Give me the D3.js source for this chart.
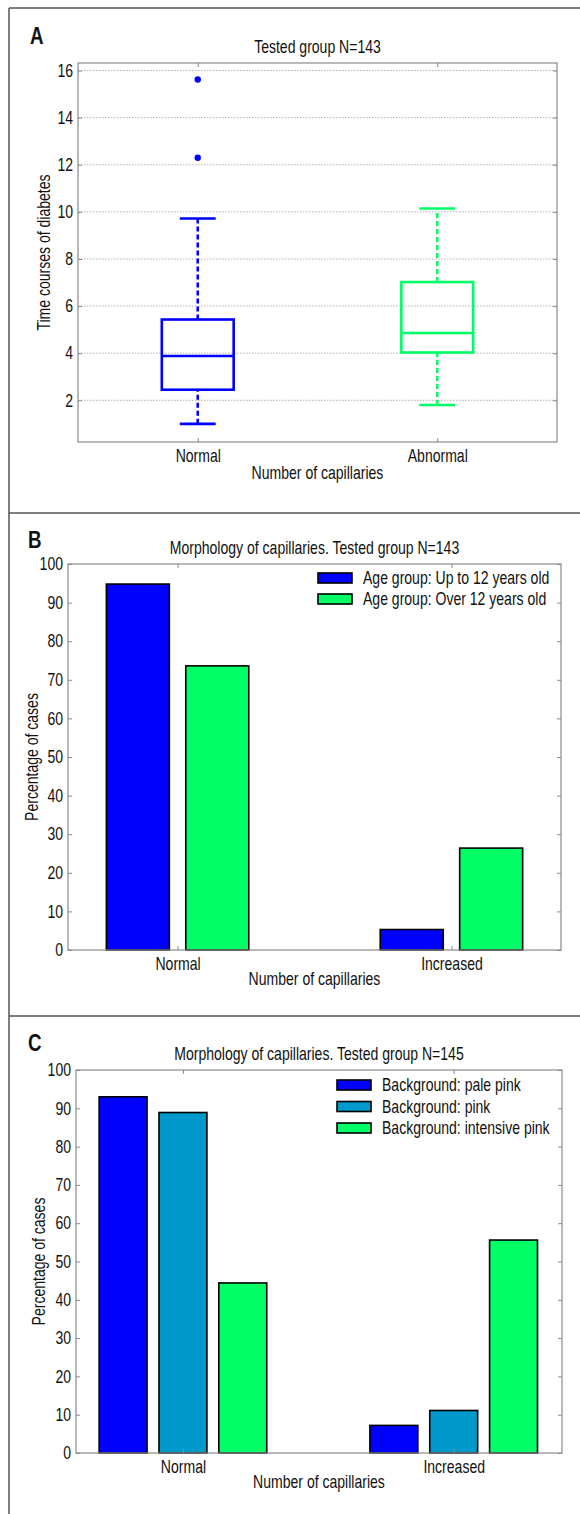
<!DOCTYPE html>
<html>
<head>
<meta charset="utf-8">
<script src="https://cdn.jsdelivr.net/npm/d3@7"></script>
<style>
  html, body { margin: 0; padding: 0; background: #fff; }
  svg { display: block; }
  text { font-family: "Liberation Sans", Arial, sans-serif; fill: #111; }
</style>
</head>
<body>
<svg id="fig" width="580" height="1514"></svg>
<script>
// ---------- Panel A: box plot of diabetes duration ----------
const boxCategories = ["Normal", "Abnormal"];
const boxColors = ["#0000ff", "#00ff66"];
const whiskerLow = [1.0, 1.8];
const quartile1 = [2.45, 4.03];
const medians = [3.88, 4.86];
const quartile3 = [5.43, 7.02];
const whiskerHigh = [9.72, 10.14];
const outliers = [[15.62, 12.3], []];
const boxTicks = [2, 4, 6, 8, 10, 12, 14, 16];

// ---------- Panel B: age groups ----------
const barCategoriesB = ["Normal", "Increased"];
const seriesNamesB = ["Age group: Up to 12 years old", "Age group: Over 12 years old"];
const seriesColorsB = ["#0000ff", "#00ff66"];
const valuesUpTo12 = [94.8, 5.3];
const valuesOver12 = [73.6, 26.4];

// ---------- Panel C: background colour ----------
const barCategoriesC = ["Normal", "Increased"];
const seriesNamesC = ["Background: pale pink", "Background: pink", "Background: intensive pink"];
const seriesColorsC = ["#0000ff", "#0099cc", "#00ff66"];
const valuesPalePink = [93.0, 7.2];
const valuesPink = [88.9, 11.1];
const valuesIntensivePink = [44.4, 55.6];

const percentTicks = [0, 10, 20, 30, 40, 50, 60, 70, 80, 90, 100];

const svg = d3.select("#fig");
const frameColor = "#8a8a8a";
const FS = "18px";
const SQUEEZE = 0.78;

// outer panel separators
const sep = svg.append("g").attr("stroke", "#555").attr("stroke-width", 1.5);
sep.append("line").attr("x1", 9).attr("x2", 9).attr("y1", 8).attr("y2", 1514);
[8, 513, 1016].forEach(y => sep.append("line").attr("x1", 9).attr("x2", 580).attr("y1", y).attr("y2", y));

// shared helper: inward ticks on all four sides plus a grey frame
function drawFrame(g, x, y, xTicks, yTicks, xFmt, yFmt) {
  const [x0, x1] = x.range();
  const [y0, y1] = y.range(); // y0 bottom, y1 top
  const left = g.append("g").attr("transform", `translate(${x0},0)`)
    .call(d3.axisLeft(y).tickValues(yTicks).tickSize(-4).tickPadding(5).tickFormat(yFmt));
  const right = g.append("g").attr("transform", `translate(${x1},0)`)
    .call(d3.axisRight(y).tickValues(yTicks).tickSize(-4).tickFormat(""));
  const bottom = g.append("g").attr("transform", `translate(0,${y0})`)
    .call(d3.axisBottom(x).tickValues(xTicks).tickSize(-4).tickPadding(7).tickFormat(xFmt));
  const top = g.append("g").attr("transform", `translate(0,${y1})`)
    .call(d3.axisTop(x).tickValues(xTicks).tickSize(-4).tickFormat(""));
  [left, right, bottom, top].forEach(a => {
    a.select(".domain").remove();
    a.selectAll(".tick line").attr("stroke", frameColor);
    a.selectAll("text").style("font-size", FS).attr("fill", "#111");
  });
  g.append("rect").attr("x", x0).attr("y", y1).attr("width", x1 - x0).attr("height", y0 - y1)
    .attr("fill", "none").attr("stroke", frameColor).attr("stroke-width", 1.2);
}

function labels(g, letter, lx, ly, title, x, y, xLabel, xLabelY, yLabel, yLabelX) {
  const [x0, x1] = x.range();
  const [y0, y1] = y.range();
  g.append("text").attr("x", lx).attr("y", ly).text(letter)
    .style("font-size", "24px").style("font-weight", "bold");
  g.append("text").attr("x", (x0 + x1) / 2).attr("y", y1 - 10).attr("text-anchor", "middle")
    .style("font-size", FS).text(title);
  g.append("text").attr("x", (x0 + x1) / 2).attr("y", xLabelY).attr("text-anchor", "middle")
    .style("font-size", FS).text(xLabel);
  g.append("text").attr("transform", `translate(${yLabelX},${(y0 + y1) / 2}) rotate(-90)`)
    .attr("text-anchor", "middle").style("font-size", FS).text(yLabel);
}

// ---------- Panel A ----------
{
  const g = svg.append("g");
  const x = d3.scaleLinear().domain([0.5, 2.5]).range([78, 557]);
  const y = d3.scaleLinear().domain([0.23, 16.32]).range([442, 63]);
  const pos = boxCategories.map((_, i) => i + 1);

  // dotted horizontal grid
  g.append("g").selectAll("line").data(boxTicks).join("line")
    .attr("x1", x.range()[0]).attr("x2", x.range()[1])
    .attr("y1", d => y(d)).attr("y2", d => y(d))
    .attr("stroke", "#b0b0b0").attr("stroke-width", 1).attr("stroke-dasharray", "1.5,1.5");

  drawFrame(g, x, y, pos, boxTicks, (d, i) => boxCategories[i], d3.format("d"));

  const boxHalf = 0.15, capHalf = 0.075;
  boxCategories.forEach((c, i) => {
    const p = pos[i], col = boxColors[i];
    const b = g.append("g").attr("stroke", col).attr("stroke-width", 2.6).attr("fill", "none");
    // whiskers
    b.append("line").attr("x1", x(p)).attr("x2", x(p)).attr("y1", y(whiskerLow[i])).attr("y2", y(quartile1[i]))
      .attr("stroke-dasharray", "5,3");
    b.append("line").attr("x1", x(p)).attr("x2", x(p)).attr("y1", y(quartile3[i])).attr("y2", y(whiskerHigh[i]))
      .attr("stroke-dasharray", "5,3");
    // caps
    [whiskerLow[i], whiskerHigh[i]].forEach(v =>
      b.append("line").attr("x1", x(p - capHalf)).attr("x2", x(p + capHalf)).attr("y1", y(v)).attr("y2", y(v)));
    // box and median
    b.append("rect").attr("x", x(p - boxHalf)).attr("y", y(quartile3[i]))
      .attr("width", x(p + boxHalf) - x(p - boxHalf)).attr("height", y(quartile1[i]) - y(quartile3[i]));
    b.append("line").attr("x1", x(p - boxHalf)).attr("x2", x(p + boxHalf)).attr("y1", y(medians[i])).attr("y2", y(medians[i]));
    // fliers
    g.selectAll(null).data(outliers[i]).join("circle")
      .attr("cx", x(p)).attr("cy", d => y(d)).attr("r", 3.2).attr("fill", col);
  });

  labels(g, "A", 30, 44, "Tested group N=143", x, y, "Number of capillaries", 479, "Time courses of diabetes", 50);
}

// grouped bar panel
function barPanel(cfg) {
  const g = svg.append("g");
  const x = d3.scaleLinear().domain(cfg.xDomain).range(cfg.xRange);
  const y = d3.scaleLinear().domain([0, 100]).range(cfg.yRange);
  const n = cfg.series.length;
  cfg.series.forEach((vals, j) => {
    g.append("g").selectAll("rect").data(vals).join("rect")
      .attr("x", (d, i) => x(i + (j - (n - 1) / 2) * cfg.offset - cfg.width / 2))
      .attr("y", d => y(d))
      .attr("width", x(cfg.width) - x(0))
      .attr("height", d => y(0) - y(d))
      .attr("fill", cfg.colors[j]).attr("stroke", "#000").attr("stroke-width", 1.6);
  });
  drawFrame(g, x, y, cfg.categories.map((_, i) => i), percentTicks, (d, i) => cfg.categories[i], d3.format("d"));

  // legend (no frame)
  const lg = g.append("g").attr("transform", `translate(${cfg.legendX},${cfg.legendY})`);
  cfg.names.forEach((name, j) => {
    const row = lg.append("g").attr("transform", `translate(0,${j * cfg.legendStep})`);
    row.append("rect").attr("x", 0).attr("y", -5).attr("width", 34).attr("height", 10)
      .attr("fill", cfg.colors[j]).attr("stroke", "#000").attr("stroke-width", 1.6);
    row.append("text").attr("x", 45).attr("y", 0).attr("dy", "0.35em")
      .style("font-size", FS).text(name);
  });

  labels(g, cfg.letter, cfg.letterX, cfg.letterY, cfg.title, x, y, "Number of capillaries",
    cfg.xLabelY, "Percentage of cases", cfg.yLabelX);
}

barPanel({
  letter: "B", letterX: 28, letterY: 548,
  title: "Morphology of capillaries. Tested group N=143",
  categories: barCategoriesB, names: seriesNamesB, colors: seriesColorsB,
  series: [valuesUpTo12, valuesOver12],
  xDomain: [-0.40, 1.40], xRange: [68, 561], yRange: [950, 564],
  width: 0.23, offset: 0.29,
  legendX: 318, legendY: 578, legendStep: 21,
  xLabelY: 985, yLabelX: 38
});

barPanel({
  letter: "C", letterX: 28, letterY: 1051,
  title: "Morphology of capillaries. Tested group N=145",
  categories: barCategoriesC, names: seriesNamesC, colors: seriesColorsC,
  series: [valuesPalePink, valuesPink, valuesIntensivePink],
  xDomain: [-0.395, 1.40], xRange: [76, 562], yRange: [1453, 1070],
  width: 0.177, offset: 0.221,
  legendX: 337, legendY: 1085, legendStep: 21.5,
  xLabelY: 1488, yLabelX: 45
});

// condensed lettering: squeeze every label horizontally about its own x anchor
svg.selectAll("text").each(function () {
  const t = d3.select(this);
  const ax = +t.attr("x") || 0;
  const prev = t.attr("transform") || "";
  t.attr("transform", `${prev} translate(${ax},0) scale(${SQUEEZE},1) translate(${-ax},0)`);
});
</script>
</body>
</html>
